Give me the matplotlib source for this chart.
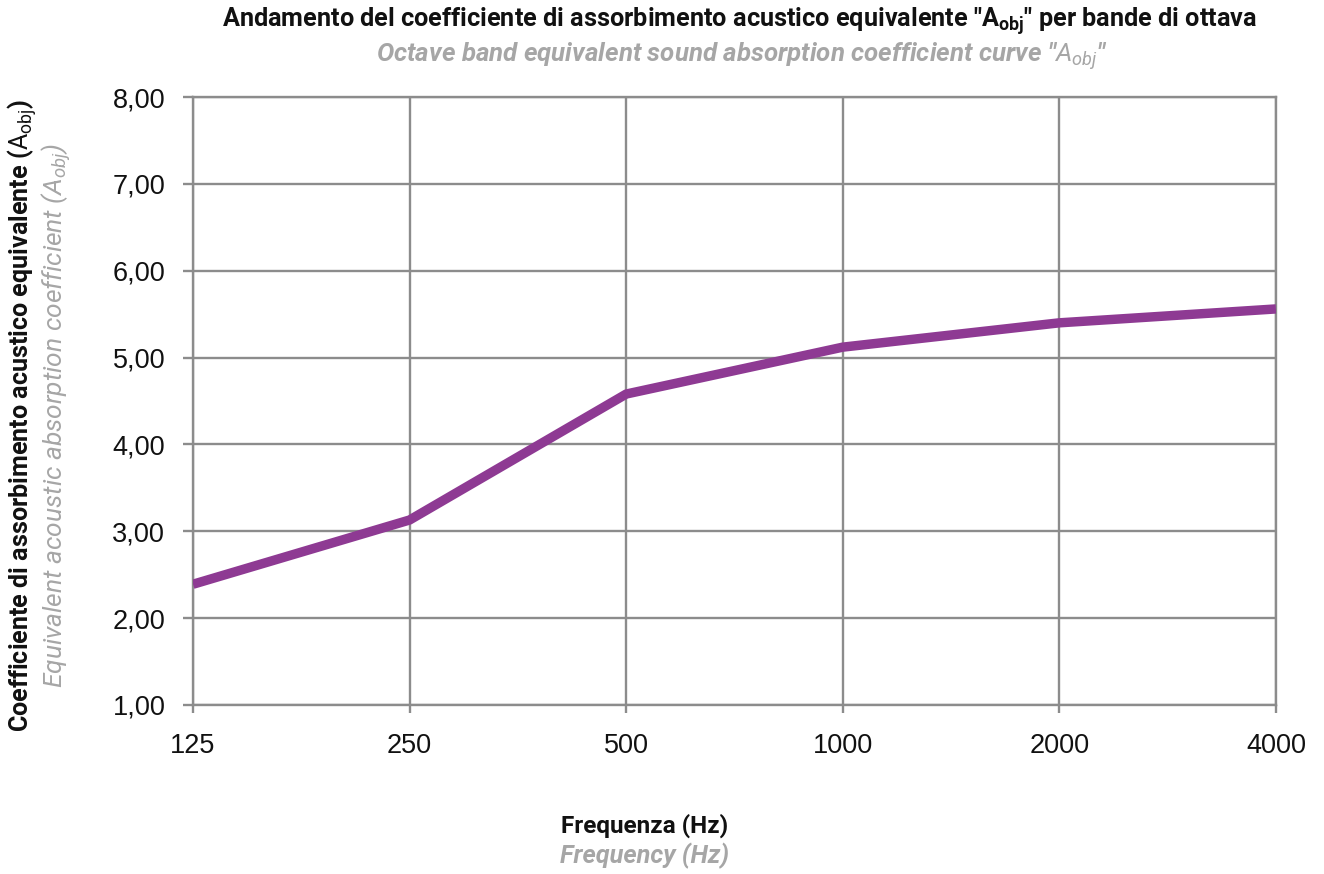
import matplotlib
matplotlib.use("Agg")
import matplotlib.pyplot as plt
from matplotlib.ticker import FixedLocator, FixedFormatter

freqs = [125, 250, 500, 1000, 2000, 4000]
freq_labels = ["125", "250", "500", "1000", "2000", "4000"]
a_obj = [2.39, 3.13, 4.58, 5.12, 5.40, 5.56]
y_ticks = [1, 2, 3, 4, 5, 6, 7, 8]
y_tick_labels = ["1,00", "2,00", "3,00", "4,00", "5,00", "6,00", "7,00", "8,00"]

tf = "Roboto"
tickfont = "Liberation Sans"

plt.rcParams['mathtext.fontset'] = 'custom'
plt.rcParams['mathtext.rm'] = tf
plt.rcParams['mathtext.it'] = tf + ':italic'
plt.rcParams['mathtext.bf'] = tf + ':bold'

fig = plt.figure(figsize=(13.24, 8.74), dpi=100)
ax = fig.add_axes([0.1458, 0.1934, 0.9637 - 0.1458, 0.889 - 0.1934])

ax.plot(freqs, a_obj, color="#8E3A93", lw=6.8, solid_capstyle='butt', zorder=3)
ax.set_xscale('log', base=2)
ax.set_xlim(125, 4000)
ax.set_ylim(1, 8)
ax.xaxis.set_major_locator(FixedLocator(freqs))
ax.xaxis.set_major_formatter(FixedFormatter(freq_labels))
ax.xaxis.set_minor_locator(FixedLocator([]))
ax.set_yticks(y_ticks)
ax.set_yticklabels(y_tick_labels)
for lab in ax.get_xticklabels() + ax.get_yticklabels():
    lab.set_fontfamily(tickfont)
    lab.set_fontsize(19.5)
    lab.set_color("#111111")
ax.grid(True, color="#8C8C8C", lw=1.7)
ax.set_axisbelow(True)
for s in ax.spines.values():
    s.set_color("#8C8C8C")
    s.set_linewidth(1.7)
ax.tick_params(axis='y', length=7, width=1.7, color="#8C8C8C", pad=13)
ax.tick_params(axis='x', length=6, width=1.7, color="#8C8C8C", pad=14)

fig.text(0.559, 0.969, 'Andamento del coefficiente di assorbimento acustico equivalente "$\\mathbf{A}_{\\mathbf{obj}}$" per bande di ottava',
         ha='center', va='baseline', fontsize=18.2, fontweight='bold', family=tf, color="#111111")
fig.text(0.56, 0.929, 'Octave band equivalent sound absorption coefficient curve "$A_{obj}$"',
         ha='center', va='baseline', fontsize=18.6, fontstyle='italic', fontweight='bold', family=tf, color="#A6A6A6")
fig.text(0.0166, 0.525, 'Coefficiente di assorbimento acustico equivalente ($\\mathrm{A_{obj}}$)',
         ha='center', va='center', rotation=90, fontsize=18.1, fontweight='bold', family=tf, color="#111111")
fig.text(0.0425, 0.524, 'Equivalent acoustic absorption coefficient ($A_{obj}$)',
         ha='center', va='center', rotation=90, fontsize=19, fontstyle='italic', family=tf, color="#A6A6A6")
fig.text(0.4865, 0.047, 'Frequenza (Hz)', ha='center', va='baseline', fontsize=17.5, fontweight='bold', family=tf, color="#111111")
fig.text(0.4865, 0.0126, 'Frequency (Hz)', ha='center', va='baseline', fontsize=18.3, fontweight='bold', fontstyle='italic', family=tf, color="#A6A6A6")

fig.savefig("out.png", dpi=100, facecolor="white")
